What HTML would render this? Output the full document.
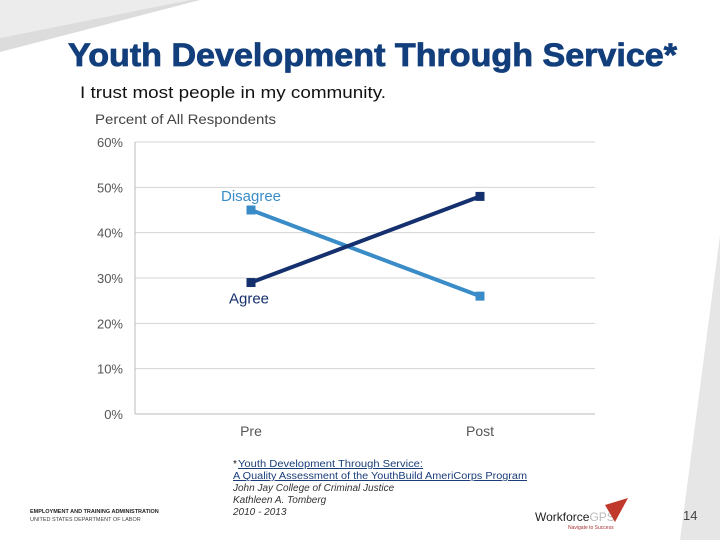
<!DOCTYPE html>
<html><head><meta charset="utf-8"><style>
html,body{margin:0;padding:0;background:#fff;width:720px;height:540px;overflow:hidden;font-family:"Liberation Sans",sans-serif}
</style></head><body>
<svg width="720" height="540" xmlns="http://www.w3.org/2000/svg">
<polygon points="0,0 190,0 0,38" fill="#ececec"/>
<polygon points="0,38 190,0 200,0 0,52" fill="#dcdcdc"/>
<polygon points="720,235 720,540 680,540" fill="#e6e6e6"/>
<text x="68" y="66" textLength="609" lengthAdjust="spacingAndGlyphs" font-size="32" font-weight="bold" fill="#123e7c" stroke="#123e7c" stroke-width="0.8">Youth Development Through Service*</text>
<text x="80" y="98" textLength="306" lengthAdjust="spacingAndGlyphs" font-size="17" fill="#111">I trust most people in my community.</text>
<text x="95" y="124" textLength="181" lengthAdjust="spacingAndGlyphs" font-size="14" fill="#444">Percent of All Respondents</text>
<g id="grid"></g>
<g id="marks"></g>
<text x="233" y="467" font-size="10" fill="#111">*</text>
<text x="238" y="467" textLength="185" lengthAdjust="spacingAndGlyphs" font-size="10" fill="#1a3e7a" text-decoration="underline">Youth Development Through Service:</text>
<text x="233" y="479" textLength="294" lengthAdjust="spacingAndGlyphs" font-size="10" fill="#1a3e7a" text-decoration="underline">A Quality Assessment of the YouthBuild AmeriCorps Program</text>
<text x="233" y="491" font-size="10" fill="#333" font-style="italic">John Jay College of Criminal Justice</text>
<text x="233" y="503" font-size="10" fill="#333" font-style="italic">Kathleen A. Tomberg</text>
<text x="233" y="515" font-size="10" fill="#333" font-style="italic">2010 - 2013</text>
<text x="30" y="513" font-size="5.5" fill="#222" font-weight="bold">EMPLOYMENT AND TRAINING ADMINISTRATION</text>
<text x="30" y="521" font-size="5.5" fill="#444">UNITED STATES DEPARTMENT OF LABOR</text>
<text x="535" y="521" font-size="12" fill="#222">Workforce<tspan fill="#bbb">GPS</tspan></text>
<polygon points="605,505 628,498 615,522" fill="#c0392b"/>
<text x="568" y="529" font-size="5" fill="#a33">Navigate to Success</text>
<text x="683" y="520" font-size="13" fill="#444">14</text>
</svg>
<script>
const categories=["Pre","Post"];
const agreeValues=[29,48];
const disagreeValues=[45,26];
const yTicks=[0,10,20,30,40,50,60];
const seriesNames=["Agree","Disagree"];
const NS="http://www.w3.org/2000/svg";
const x0=135,x1=595,yTop=142,yBot=414;
const xPos=[251,480];
function xs(i){return xPos[i];}
function ys(v){return yBot-(v/60)*(yBot-yTop);}
function mk(t,a,p){const e=document.createElementNS(NS,t);for(const k in a)e.setAttribute(k,a[k]);p.appendChild(e);return e;}
const g=document.getElementById('grid'),m=document.getElementById('marks');
yTicks.forEach(v=>{
const l=mk('line',{x1:x0,x2:x1,y1:ys(v),y2:ys(v),stroke:v===0?'#bbb':'#d4d4d4','stroke-width':1},g);


const t=mk('text',{x:123,y:ys(v)+5,'text-anchor':'end','font-size':13,fill:'#555'},g);t.textContent=v+'%';


});
const ax=mk('line',{x1:x0,x2:x0,y1:yTop,y2:yBot,stroke:'#bbb'},g);


categories.forEach((c,i)=>{const t=mk('text',{x:xs(i),y:436,'text-anchor':'middle','font-size':14,fill:'#555'},g);t.textContent=c;

});
function series(vals,color,name){
const pts=vals.map((v,i)=>xs(i)+','+ys(v)).join(' ');
const pl=mk('polyline',{points:pts,fill:'none',stroke:color,'stroke-width':4},m);


vals.forEach((v,i)=>{const r=mk('rect',{x:xs(i)-4.5,y:ys(v)-4.5,width:9,height:9,fill:color},m);

});
}
series(disagreeValues,'#3a8cc8','disagree');
series(agreeValues,'#15306e','agree');
const ld=mk('text',{x:221,y:ys(disagreeValues[0])-9,'font-size':15,fill:'#3a8cc8'},m);ld.textContent=seriesNames[1];


const la=mk('text',{x:229,y:ys(agreeValues[0])+21,'font-size':15,fill:'#15306e'},m);la.textContent=seriesNames[0];


</script>
</body></html>
